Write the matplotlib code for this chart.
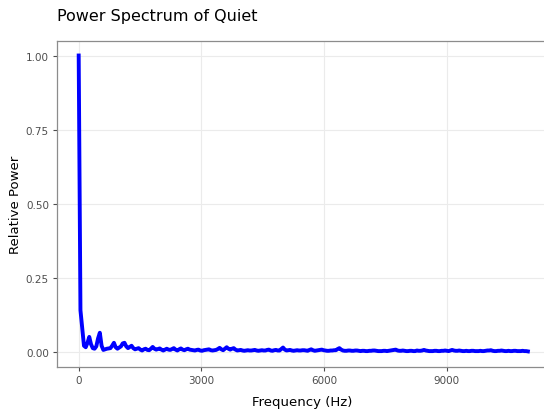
import numpy as np
import matplotlib
matplotlib.use("Agg")
import matplotlib.pyplot as plt

# FFT bins (Hz) and relative power
bin_width = 43.07
power = [
    1.000, 0.140, 0.080, 0.020, 0.015, 0.030, 0.050, 0.025, 0.012, 0.010,
    0.018, 0.045, 0.064, 0.020, 0.006, 0.008, 0.010, 0.011, 0.012, 0.020,
    0.030, 0.015, 0.010, 0.014, 0.018, 0.028, 0.030, 0.018, 0.012, 0.016,
    0.020, 0.012, 0.008, 0.010, 0.012, 0.007, 0.004, 0.008, 0.010, 0.006,
    0.005, 0.010, 0.016, 0.010, 0.007, 0.009, 0.011, 0.007, 0.004, 0.007,
    0.010, 0.007, 0.006, 0.009, 0.012, 0.007, 0.004, 0.008, 0.011, 0.007,
    0.005, 0.008, 0.010, 0.007, 0.006, 0.005, 0.004, 0.006, 0.007, 0.004,
    0.003, 0.005, 0.006, 0.007, 0.008, 0.005, 0.004, 0.005, 0.006, 0.009,
    0.013, 0.008, 0.005, 0.010, 0.015, 0.010, 0.007, 0.010, 0.012, 0.007,
    0.004, 0.005, 0.006, 0.004, 0.003, 0.004, 0.005, 0.004, 0.004, 0.005,
    0.006, 0.004, 0.003, 0.004, 0.005, 0.004, 0.004, 0.006, 0.007, 0.004,
    0.003, 0.005, 0.006, 0.004, 0.004, 0.009, 0.014, 0.007, 0.004, 0.005,
    0.006, 0.004, 0.003, 0.004, 0.005, 0.004, 0.004, 0.005, 0.005, 0.004,
    0.003, 0.006, 0.008, 0.005, 0.003, 0.004, 0.005, 0.006, 0.007, 0.005,
    0.004, 0.003, 0.003, 0.004, 0.004, 0.005, 0.005, 0.009, 0.012, 0.007,
    0.004, 0.003, 0.003, 0.004, 0.004, 0.003, 0.003, 0.004, 0.004, 0.003,
    0.002, 0.003, 0.003, 0.002, 0.002, 0.003, 0.003, 0.004, 0.004, 0.003,
    0.002, 0.002, 0.002, 0.003, 0.003, 0.002, 0.003, 0.004, 0.005, 0.006,
    0.007, 0.004, 0.003, 0.003, 0.004, 0.003, 0.002, 0.002, 0.003, 0.003,
    0.002, 0.002, 0.004, 0.003, 0.003, 0.004, 0.006, 0.004, 0.003, 0.002,
    0.002, 0.002, 0.003, 0.003, 0.002, 0.002, 0.003, 0.003, 0.004, 0.003,
    0.002, 0.004, 0.006, 0.004, 0.003, 0.003, 0.004, 0.003, 0.002, 0.002,
    0.003, 0.002, 0.002, 0.003, 0.003, 0.002, 0.002, 0.002, 0.003, 0.002,
    0.002, 0.003, 0.004, 0.004, 0.005, 0.003, 0.002, 0.002, 0.003, 0.003,
    0.004, 0.003, 0.002, 0.002, 0.003, 0.002, 0.002, 0.003, 0.003, 0.002,
    0.002, 0.002, 0.003, 0.002, 0.002, 0.001,
]
freq = np.arange(len(power)) * bin_width

x_ticks = [0, 3000, 6000, 9000]
y_ticks = [0.00, 0.25, 0.50, 0.75, 1.00]

plt.rcParams['font.family'] = ['DejaVu Sans']

fig = plt.figure(figsize=(5.44, 4.10), dpi=100)
ax = fig.add_axes([57.3 / 544, 1 - 367.5 / 410, (547 - 57.3) / 544, (367.5 - 41.7) / 410])

ax.plot(freq, power, color="#0000ff", linewidth=2.8, solid_joinstyle="round")

ax.set_xlim(-523, 11450)
ax.set_ylim(-0.05, 1.05)
ax.set_xticks(x_ticks)
ax.set_xticklabels([str(t) for t in x_ticks])
ax.set_yticks(y_ticks)
ax.set_yticklabels([f"{t:.2f}" for t in y_ticks])

ax.grid(True, color="#ebebeb", linewidth=0.8)
ax.set_axisbelow(True)
for s in ax.spines.values():
    s.set_color("#8c8c8c")
    s.set_linewidth(0.9)
ax.tick_params(axis="both", length=3, width=0.8, color="#4d4d4d",
               labelsize=7.5, labelcolor="#4d4d4d", pad=3)

ax.set_xlabel("Frequency (Hz)", fontsize=9.5, labelpad=7)
ax.set_ylabel("Relative Power", fontsize=9.5, labelpad=3)
fig.text(57 / 544, 1 - 17 / 410, "Power Spectrum of Quiet", fontsize=11.5,
         ha="left", va="center")

fig.savefig("out.png", dpi=100)
